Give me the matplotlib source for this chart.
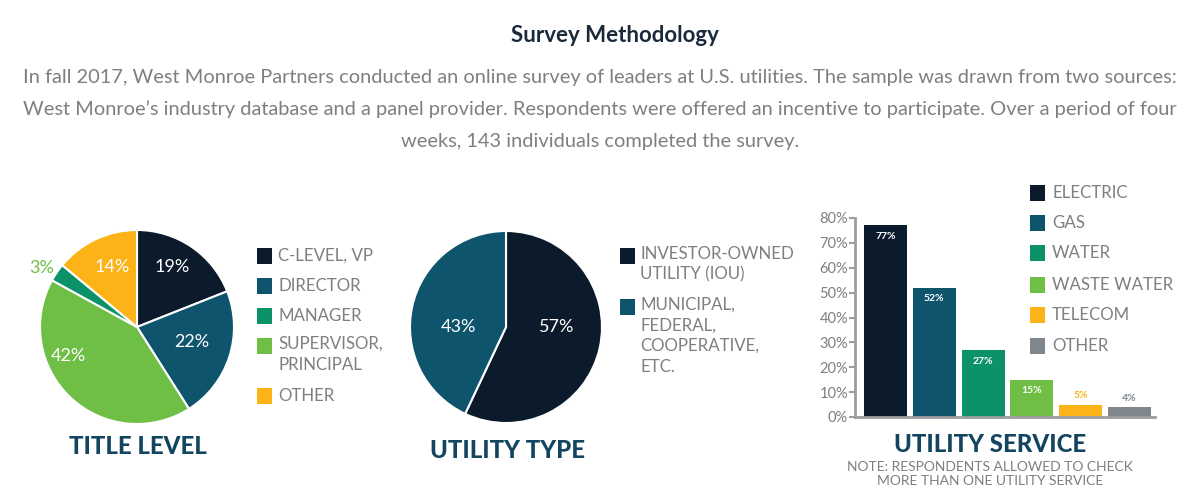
import matplotlib
matplotlib.use('Agg')
import matplotlib.pyplot as plt
from matplotlib.patches import Rectangle

# ---- data ----
title_labels = ['C-LEVEL, VP', 'DIRECTOR', 'MANAGER', 'SUPERVISOR,\nPRINCIPAL', 'OTHER']
title_values = [19, 22, 3, 42, 14]
# order in which the wedges run clockwise from 12 o'clock
title_order = [0, 1, 3, 2, 4]

type_labels = ['INVESTOR-OWNED\nUTILITY (IOU)', 'MUNICIPAL,\nFEDERAL,\nCOOPERATIVE,\nETC.']
type_values = [57, 43]

service_labels = ['ELECTRIC', 'GAS', 'WATER', 'WASTE WATER', 'TELECOM', 'OTHER']
service_values = [77, 52, 27, 15, 5, 4]
service_ticks = [0, 10, 20, 30, 40, 50, 60, 70, 80]

NAVY = '#0b1b2b'
BLUE = '#0e546c'
TEAL = '#0b9268'
LGREEN = '#6fbe45'
ORANGE = '#fbb317'
GRAY = '#7f868c'
TXT = '#7d7f82'
HEAD = '#124560'

title_colors = [NAVY, BLUE, TEAL, LGREEN, ORANGE]
type_colors = [NAVY, BLUE]
service_colors = [NAVY, BLUE, TEAL, LGREEN, ORANGE, GRAY]

W, H = 1200, 500
fig = plt.figure(figsize=(12, 5), dpi=100)
plt.rcParams['font.family'] = ['Lato', 'DejaVu Sans']
LEG = 12.2
HEADSZ = 17.3


def px_axes(x0, y0, x1, y1):
    # axes from pixel box (top-left origin)
    return fig.add_axes([x0 / W, 1 - y1 / H, (x1 - x0) / W, (y1 - y0) / H])


# overlay for text and legend squares in pixel units
ov = fig.add_axes([0, 0, 1, 1])
ov.set_xlim(0, W)
ov.set_ylim(H, 0)
ov.axis('off')
ov.set_zorder(5)

ov.text(615, 35, 'Survey Methodology', ha='center', va='center',
        fontsize=16, color='#1b2a3a', fontweight='bold')
body = ["In fall 2017, West Monroe Partners conducted an online survey of leaders at U.S. utilities. The sample was drawn from two sources:",
        "West Monroe\u2019s industry database and a panel provider. Respondents were offered an incentive to participate. Over a period of four",
        "weeks, 143 individuals completed the survey."]
for i, line in enumerate(body):
    ov.text(600, 77 + i * 32, line, ha='center', va='center', fontsize=14.4, color=TXT)

################################################################################
# pie 1: title level
r1 = 97
ax1 = px_axes(137 - r1, 327 - r1, 137 + r1, 327 + r1)
vals = [title_values[i] for i in title_order]
cols = [title_colors[i] for i in title_order]
ax1.pie(vals, colors=cols, startangle=90, counterclock=False, radius=1,
        wedgeprops=dict(edgecolor='white', linewidth=1.5))
ax1.set_xlim(-1, 1)
ax1.set_ylim(-1, 1)
ax1.set_aspect('equal')
lab_pos = {0: (0.36, 0.62), 1: (0.56, -0.15), 3: (-0.71, -0.30), 4: (-0.26, 0.62)}
for i, (x, y) in lab_pos.items():
    ax1.text(x, y, f'{title_values[i]}%', ha='center', va='center',
             color='white', fontsize=13)
ax1.text(-0.98, 0.61, f'{title_values[2]}%', ha='center', va='center',
         color=LGREEN, fontsize=13, clip_on=False)

for i, lab in enumerate(title_labels):
    y = [256, 286, 316, 346, 396][i]
    ov.add_patch(Rectangle((257, y - 8), 15, 16, color=title_colors[i], lw=0))
    ov.text(278, y - 10 if '\n' in lab else y, lab, ha='left',
            va='top' if '\n' in lab else 'center',
            fontsize=LEG, color=TXT, linespacing=1.35)
ov.text(138, 447, 'TITLE LEVEL', ha='center', va='center', fontsize=HEADSZ,
        fontweight='black', color=HEAD)

################################################################################
# pie 2: utility type
r2 = 96
ax2 = px_axes(506 - r2, 327 - r2, 506 + r2, 327 + r2)
ax2.pie(type_values, colors=type_colors, startangle=90, counterclock=False, radius=1,
        wedgeprops=dict(edgecolor='white', linewidth=1.5))
ax2.set_xlim(-1, 1)
ax2.set_ylim(-1, 1)
ax2.set_aspect('equal')
for (x, y), v in zip([(0.53, 0.0), (-0.50, 0.0)], type_values):
    ax2.text(x, y, f'{v}%', ha='center', va='center', color='white', fontsize=13)

for i, lab in enumerate(type_labels):
    y = [256, 307][i]
    ov.add_patch(Rectangle((620, y - 8), 15, 16, color=type_colors[i], lw=0))
    ov.text(640, y - 10, lab, ha='left', va='top', fontsize=LEG,
            color=TXT, linespacing=1.35)
ov.text(507, 450, 'UTILITY TYPE', ha='center', va='center', fontsize=HEADSZ,
        fontweight='black', color=HEAD)

################################################################################
# bars: utility service
ax3 = px_axes(855, 218, 1155, 417)
x = list(range(len(service_values)))
bars = ax3.bar(x, service_values, width=0.88, color=service_colors)
ax3.set_xlim(-0.62, 5.52)
ax3.set_ylim(0, 80)
ax3.set_yticks(service_ticks)
ax3.set_yticklabels([f'{t}%' for t in service_ticks])
ax3.set_xticks([])
for s in ['top', 'right']:
    ax3.spines[s].set_visible(False)
for s in ['left', 'bottom']:
    ax3.spines[s].set_color('#9b9da0')
    ax3.spines[s].set_linewidth(2)
ax3.tick_params(axis='y', colors='#9b9da0', labelcolor=TXT, labelsize=10.5,
                length=4, width=1.5, pad=1)
for b, v, c in zip(bars, service_values, service_colors):
    cx = b.get_x() + b.get_width() / 2
    if v > 10:
        ax3.text(cx, v - 4.5, f'{v}%', ha='center', va='center',
                 color='white', fontsize=7.5, fontweight='bold')
    else:
        ax3.text(cx, v + 3.5, f'{v}%', ha='center', va='center',
                 color=c, fontsize=7.5, fontweight='bold')

for i, lab in enumerate(service_labels):
    y = [193, 223, 253, 285, 315, 346][i]
    ov.add_patch(Rectangle((1030, y - 8), 15, 16, color=service_colors[i], lw=0))
    ov.text(1052, y, lab, ha='left', va='center', fontsize=LEG, color=TXT)
ov.text(990, 445, 'UTILITY SERVICE', ha='center', va='center', fontsize=HEADSZ,
        fontweight='black', color=HEAD)
ov.text(990, 474, 'NOTE: RESPONDENTS ALLOWED TO CHECK\nMORE THAN ONE UTILITY SERVICE',
        ha='center', va='center', fontsize=10, color=TXT, linespacing=1.15)

plt.savefig('out.png', dpi=100)
